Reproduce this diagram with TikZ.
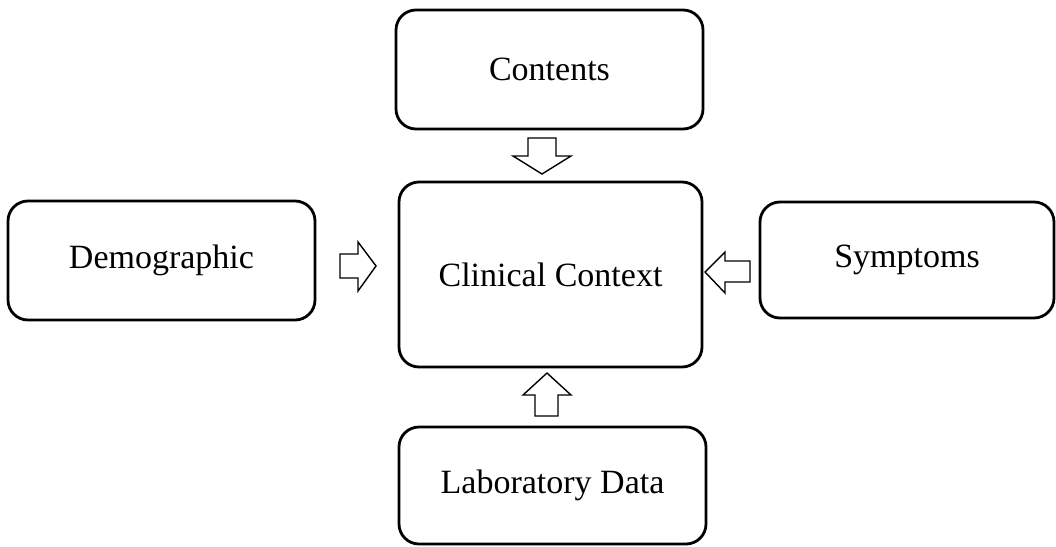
\documentclass[tikz,border=0pt]{standalone}
\usepackage{fontspec}
\setmainfont{Liberation Serif}
\begin{document}
\begin{tikzpicture}[x=1pt,y=-1pt,
  box/.style={draw,line width=2.8pt,rounded corners=20pt,font=\fontsize{34}{40}\selectfont},
  blockarrow/.style={draw,line width=1.4pt,fill=white,line join=miter}]
\useasboundingbox (0,0) rectangle (1056,546);
% boxes, each with a named label node at its centre
\draw[box] (396,10) rectangle (703,129) node[midway,draw=none] (contents) {Contents};
\draw[box] (399,182) rectangle (702,367) node[midway,draw=none] (clinical) {Clinical Context};
\draw[box] (399,427) rectangle (706,544) node[midway,draw=none] (lab) {Laboratory Data};
\draw[box] (8,201) rectangle (315,320) node[midway,draw=none] (demo) {Demographic};
\draw[box] (760,202) rectangle (1054,318) node[midway,draw=none] (symp) {Symptoms};
% block arrows pointing into the central box
\draw[blockarrow] (528,138) -- (556,138) -- (556,156) -- (571,156) -- (542,174) -- (513,156) -- (528,156) -- cycle;
\draw[blockarrow] (535,416) -- (558,416) -- (558,395) -- (571,395) -- (547,373) -- (523,395) -- (535,395) -- cycle;
\draw[blockarrow] (340,254) -- (358,254) -- (358,242) -- (376,266) -- (358,291) -- (358,278) -- (340,278) -- cycle;
\draw[blockarrow] (750,261) -- (725,261) -- (725,252) -- (705,272) -- (725,293) -- (725,282) -- (750,282) -- cycle;
\end{tikzpicture}
\end{document}
